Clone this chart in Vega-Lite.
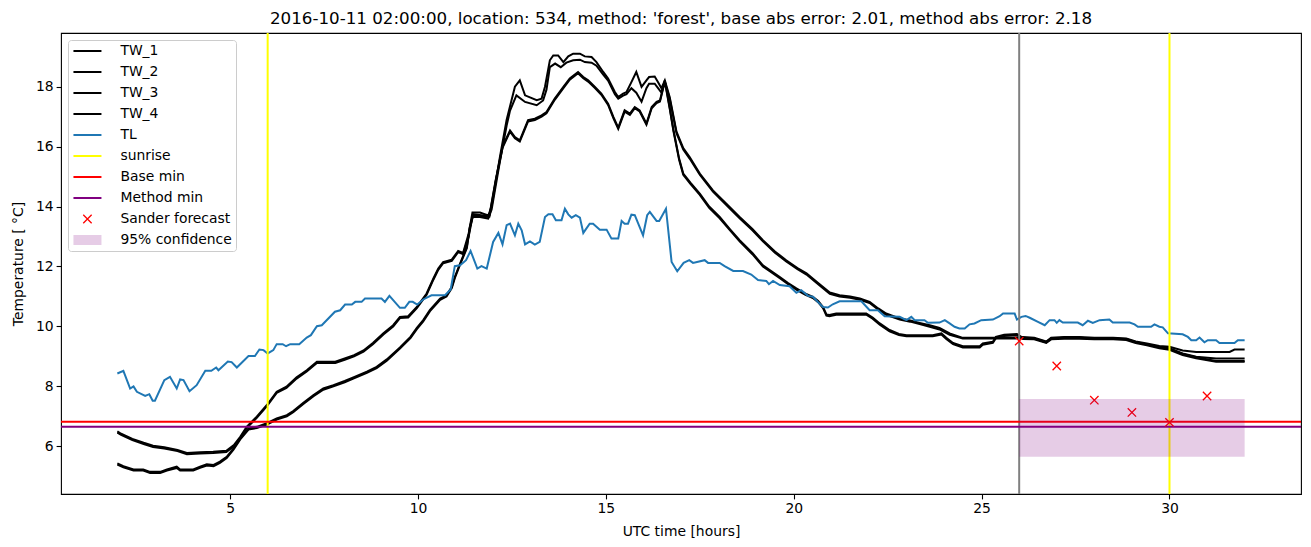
{
"$schema": "https://vega.github.io/schema/vega-lite/v6.json",
"width": 1240, "height": 461,
"autosize": {"type": "none"},
"padding": {"left": 61, "top": 33, "right": 10, "bottom": 53},
"title": {"text": "2016-10-11 02:00:00, location: 534, method: 'forest', base abs error: 2.01, method abs error: 2.18", "font": "DejaVu Sans", "fontSize": 16.7, "fontWeight": "normal", "color": "black", "anchor": "middle", "offset": 4},
"config": {
  "font": "DejaVu Sans",
  "view": {"stroke": "black", "strokeWidth": 1.1},
  "axis": {"grid": false, "domain": false, "tickColor": "black", "tickSize": 4.9, "tickWidth": 1.1, "labelColor": "black", "labelFont": "DejaVu Sans", "labelFontSize": 13.9, "titleFont": "DejaVu Sans", "titleFontSize": 13.9, "titleFontWeight": "normal", "titleColor": "black"},
  "axisX": {"labelPadding": 3, "titlePadding": 9},
  "axisY": {"labelPadding": 3, "titlePadding": 10}
},
"datasets": {
"tw1": [{"t":2.0,"v":6.5},{"t":2.1,"v":6.42},{"t":2.4,"v":6.25},{"t":2.7,"v":6.12},{"t":2.95,"v":6.02},{"t":3.25,"v":5.97},{"t":3.6,"v":5.88},{"t":3.85,"v":5.78},{"t":4.2,"v":5.8},{"t":4.55,"v":5.82},{"t":4.9,"v":5.85},{"t":5.1,"v":6.04},{"t":5.27,"v":6.32},{"t":5.44,"v":6.65},{"t":5.71,"v":6.99},{"t":5.98,"v":7.38},{"t":6.24,"v":7.82},{"t":6.5,"v":7.99},{"t":6.77,"v":8.3},{"t":7.04,"v":8.54},{"t":7.31,"v":8.82},{"t":7.8,"v":8.82},{"t":8.05,"v":8.93},{"t":8.3,"v":9.04},{"t":8.55,"v":9.2},{"t":8.8,"v":9.45},{"t":9.08,"v":9.77},{"t":9.34,"v":10.04},{"t":9.52,"v":10.32},{"t":9.74,"v":10.34},{"t":9.97,"v":10.65},{"t":10.23,"v":11.1},{"t":10.41,"v":11.6},{"t":10.54,"v":11.93},{"t":10.67,"v":12.15},{"t":10.9,"v":12.23},{"t":11.07,"v":12.52},{"t":11.2,"v":12.45},{"t":11.35,"v":13.1},{"t":11.45,"v":13.8},{"t":11.65,"v":13.8},{"t":11.87,"v":13.7},{"t":11.96,"v":14.0},{"t":12.18,"v":15.65},{"t":12.36,"v":16.9},{"t":12.45,"v":17.35},{"t":12.58,"v":18.0},{"t":12.71,"v":18.21},{"t":12.85,"v":17.71},{"t":13.16,"v":17.55},{"t":13.29,"v":17.6},{"t":13.38,"v":18.0},{"t":13.51,"v":18.88},{"t":13.6,"v":19.04},{"t":13.73,"v":19.04},{"t":13.87,"v":18.82},{"t":14.0,"v":19.01},{"t":14.13,"v":19.1},{"t":14.31,"v":19.1},{"t":14.44,"v":19.01},{"t":14.62,"v":18.99},{"t":14.75,"v":18.82},{"t":14.93,"v":18.49},{"t":15.06,"v":18.27},{"t":15.24,"v":17.82},{"t":15.33,"v":17.65},{"t":15.46,"v":17.77},{"t":15.55,"v":17.82},{"t":15.68,"v":18.15},{"t":15.81,"v":18.49},{"t":15.95,"v":17.99},{"t":16.08,"v":18.21},{"t":16.15,"v":18.32},{"t":16.3,"v":18.34},{"t":16.39,"v":18.15},{"t":16.48,"v":17.95},{"t":16.57,"v":18.21},{"t":16.7,"v":17.65},{"t":16.88,"v":16.5},{"t":17.06,"v":15.95},{"t":17.23,"v":15.65},{"t":17.5,"v":15.1},{"t":17.85,"v":14.54},{"t":18.2,"v":14.1},{"t":18.56,"v":13.65},{"t":18.9,"v":13.25},{"t":19.18,"v":12.88},{"t":19.5,"v":12.5},{"t":19.8,"v":12.21},{"t":20.1,"v":11.95},{"t":20.34,"v":11.77},{"t":20.65,"v":11.45},{"t":20.96,"v":11.13},{"t":21.22,"v":11.04},{"t":21.5,"v":11.0},{"t":21.76,"v":10.93},{"t":22.02,"v":10.82},{"t":22.25,"v":10.6},{"t":22.46,"v":10.43},{"t":22.82,"v":10.27},{"t":23.1,"v":10.2},{"t":23.35,"v":10.12},{"t":23.62,"v":10.04},{"t":23.88,"v":9.95},{"t":24.15,"v":9.77},{"t":24.5,"v":9.62},{"t":25.0,"v":9.62},{"t":25.5,"v":9.62},{"t":25.9,"v":9.62},{"t":26.1,"v":9.65},{"t":26.4,"v":9.62},{"t":26.72,"v":9.5},{"t":26.85,"v":9.62},{"t":27.2,"v":9.65},{"t":27.6,"v":9.65},{"t":28.0,"v":9.62},{"t":28.5,"v":9.62},{"t":28.85,"v":9.6},{"t":29.1,"v":9.5},{"t":29.4,"v":9.43},{"t":29.73,"v":9.35},{"t":30.0,"v":9.32},{"t":30.35,"v":9.2},{"t":30.71,"v":9.15},{"t":31.2,"v":9.15},{"t":31.6,"v":9.15},{"t":31.73,"v":9.23},{"t":32.0,"v":9.23}],
"tw2": [{"t":2.0,"v":6.46},{"t":2.1,"v":6.38},{"t":2.4,"v":6.21},{"t":2.7,"v":6.08},{"t":2.95,"v":5.98},{"t":3.25,"v":5.93},{"t":3.6,"v":5.84},{"t":3.85,"v":5.74},{"t":4.2,"v":5.76},{"t":4.55,"v":5.78},{"t":4.9,"v":5.81},{"t":5.1,"v":6.0},{"t":5.27,"v":6.28},{"t":5.44,"v":6.61},{"t":5.71,"v":6.95},{"t":5.98,"v":7.34},{"t":6.24,"v":7.78},{"t":6.5,"v":7.95},{"t":6.77,"v":8.26},{"t":7.04,"v":8.5},{"t":7.31,"v":8.78},{"t":7.8,"v":8.78},{"t":8.05,"v":8.89},{"t":8.3,"v":9.0},{"t":8.55,"v":9.16},{"t":8.8,"v":9.41},{"t":9.08,"v":9.73},{"t":9.34,"v":10.0},{"t":9.52,"v":10.28},{"t":9.74,"v":10.3},{"t":9.97,"v":10.61},{"t":10.23,"v":11.06},{"t":10.41,"v":11.56},{"t":10.54,"v":11.89},{"t":10.67,"v":12.11},{"t":10.9,"v":12.19},{"t":11.07,"v":12.48},{"t":11.2,"v":12.41},{"t":11.35,"v":13.0},{"t":11.45,"v":13.65},{"t":11.65,"v":13.65},{"t":11.87,"v":13.6},{"t":11.96,"v":13.9},{"t":12.18,"v":15.5},{"t":12.36,"v":16.7},{"t":12.45,"v":17.2},{"t":12.62,"v":17.71},{"t":12.85,"v":17.49},{"t":13.16,"v":17.38},{"t":13.33,"v":17.54},{"t":13.42,"v":17.9},{"t":13.51,"v":18.65},{"t":13.65,"v":18.77},{"t":13.8,"v":18.65},{"t":13.95,"v":18.8},{"t":14.13,"v":18.88},{"t":14.31,"v":18.9},{"t":14.44,"v":18.82},{"t":14.62,"v":18.8},{"t":14.75,"v":18.7},{"t":14.93,"v":18.4},{"t":15.06,"v":18.2},{"t":15.24,"v":17.75},{"t":15.33,"v":17.6},{"t":15.46,"v":17.7},{"t":15.55,"v":17.75},{"t":15.68,"v":17.95},{"t":15.81,"v":17.8},{"t":15.95,"v":17.5},{"t":16.08,"v":17.95},{"t":16.15,"v":18.1},{"t":16.3,"v":18.1},{"t":16.39,"v":17.95},{"t":16.48,"v":17.8},{"t":16.57,"v":18.15},{"t":16.7,"v":17.6},{"t":16.88,"v":16.45},{"t":17.06,"v":15.9},{"t":17.23,"v":15.6},{"t":17.5,"v":15.06},{"t":17.85,"v":14.5},{"t":18.2,"v":14.06},{"t":18.56,"v":13.61},{"t":18.9,"v":13.21},{"t":19.18,"v":12.84},{"t":19.5,"v":12.46},{"t":19.8,"v":12.17},{"t":20.1,"v":11.91},{"t":20.34,"v":11.73},{"t":20.65,"v":11.41},{"t":20.96,"v":11.09},{"t":21.22,"v":11.0},{"t":21.5,"v":10.96},{"t":21.76,"v":10.89},{"t":22.02,"v":10.78},{"t":22.25,"v":10.56},{"t":22.46,"v":10.39},{"t":22.82,"v":10.23},{"t":23.1,"v":10.16},{"t":23.35,"v":10.08},{"t":23.62,"v":9.99},{"t":23.88,"v":9.9},{"t":24.15,"v":9.72},{"t":24.5,"v":9.6},{"t":25.0,"v":9.6},{"t":25.5,"v":9.6},{"t":25.9,"v":9.6},{"t":26.1,"v":9.62},{"t":26.4,"v":9.6},{"t":26.72,"v":9.47},{"t":26.85,"v":9.6},{"t":27.2,"v":9.62},{"t":27.6,"v":9.62},{"t":28.0,"v":9.6},{"t":28.5,"v":9.6},{"t":28.85,"v":9.57},{"t":29.1,"v":9.47},{"t":29.4,"v":9.4},{"t":29.73,"v":9.32},{"t":30.0,"v":9.27},{"t":30.35,"v":9.1},{"t":30.71,"v":8.99},{"t":31.24,"v":8.93},{"t":32.0,"v":8.93}],
"tw3": [{"t":2.0,"v":5.43},{"t":2.16,"v":5.34},{"t":2.43,"v":5.23},{"t":2.69,"v":5.23},{"t":2.87,"v":5.15},{"t":3.14,"v":5.15},{"t":3.32,"v":5.23},{"t":3.58,"v":5.32},{"t":3.67,"v":5.23},{"t":4.02,"v":5.23},{"t":4.2,"v":5.32},{"t":4.38,"v":5.4},{"t":4.56,"v":5.38},{"t":4.73,"v":5.49},{"t":4.91,"v":5.65},{"t":5.09,"v":5.93},{"t":5.27,"v":6.27},{"t":5.49,"v":6.6},{"t":5.71,"v":6.65},{"t":5.98,"v":6.77},{"t":6.24,"v":6.93},{"t":6.51,"v":7.04},{"t":6.68,"v":7.18},{"t":6.95,"v":7.45},{"t":7.22,"v":7.71},{"t":7.48,"v":7.93},{"t":7.75,"v":8.04},{"t":8.05,"v":8.18},{"t":8.28,"v":8.3},{"t":8.64,"v":8.49},{"t":8.9,"v":8.65},{"t":9.17,"v":8.9},{"t":9.52,"v":9.3},{"t":9.8,"v":9.65},{"t":9.97,"v":9.95},{"t":10.14,"v":10.21},{"t":10.32,"v":10.55},{"t":10.59,"v":10.93},{"t":10.76,"v":11.04},{"t":10.9,"v":11.32},{"t":10.98,"v":11.65},{"t":11.12,"v":12.1},{"t":11.3,"v":12.65},{"t":11.38,"v":13.32},{"t":11.47,"v":13.75},{"t":11.73,"v":13.7},{"t":11.9,"v":13.7},{"t":12.07,"v":14.9},{"t":12.25,"v":16.0},{"t":12.45,"v":16.54},{"t":12.58,"v":16.32},{"t":12.71,"v":16.21},{"t":12.93,"v":16.88},{"t":13.11,"v":16.93},{"t":13.29,"v":17.04},{"t":13.42,"v":17.15},{"t":13.64,"v":17.6},{"t":13.87,"v":17.99},{"t":14.04,"v":18.27},{"t":14.26,"v":18.49},{"t":14.4,"v":18.32},{"t":14.53,"v":18.21},{"t":14.71,"v":17.99},{"t":14.88,"v":17.77},{"t":15.06,"v":17.43},{"t":15.2,"v":16.99},{"t":15.33,"v":16.63},{"t":15.5,"v":17.21},{"t":15.64,"v":17.1},{"t":15.77,"v":17.32},{"t":15.9,"v":17.21},{"t":16.08,"v":16.77},{"t":16.22,"v":17.32},{"t":16.35,"v":17.49},{"t":16.44,"v":17.54},{"t":16.57,"v":18.21},{"t":16.7,"v":17.3},{"t":16.8,"v":16.55},{"t":16.95,"v":15.6},{"t":17.06,"v":15.1},{"t":17.25,"v":14.8},{"t":17.5,"v":14.43},{"t":17.75,"v":14.0},{"t":18.03,"v":13.65},{"t":18.3,"v":13.25},{"t":18.56,"v":12.88},{"t":18.9,"v":12.45},{"t":19.18,"v":12.04},{"t":19.4,"v":11.85},{"t":19.63,"v":11.65},{"t":19.85,"v":11.45},{"t":20.07,"v":11.27},{"t":20.3,"v":11.1},{"t":20.51,"v":10.99},{"t":20.65,"v":10.85},{"t":20.78,"v":10.65},{"t":20.87,"v":10.4},{"t":20.95,"v":10.38},{"t":21.13,"v":10.43},{"t":21.93,"v":10.43},{"t":22.1,"v":10.3},{"t":22.29,"v":10.1},{"t":22.55,"v":9.88},{"t":22.8,"v":9.75},{"t":23.0,"v":9.71},{"t":23.7,"v":9.71},{"t":23.93,"v":9.77},{"t":24.06,"v":9.62},{"t":24.24,"v":9.45},{"t":24.5,"v":9.34},{"t":24.95,"v":9.34},{"t":25.03,"v":9.43},{"t":25.3,"v":9.49},{"t":25.38,"v":9.65},{"t":25.6,"v":9.72},{"t":25.94,"v":9.75},{"t":26.1,"v":9.62},{"t":26.4,"v":9.6},{"t":26.72,"v":9.48},{"t":26.85,"v":9.6},{"t":27.2,"v":9.62},{"t":27.6,"v":9.62},{"t":28.0,"v":9.6},{"t":28.5,"v":9.6},{"t":28.85,"v":9.58},{"t":29.1,"v":9.48},{"t":29.4,"v":9.4},{"t":29.73,"v":9.3},{"t":30.0,"v":9.25},{"t":30.35,"v":9.08},{"t":30.71,"v":8.97},{"t":31.24,"v":8.85},{"t":32.0,"v":8.85}],
"tw4": [{"t":2.0,"v":5.39},{"t":2.16,"v":5.3},{"t":2.43,"v":5.19},{"t":2.69,"v":5.19},{"t":2.87,"v":5.11},{"t":3.14,"v":5.11},{"t":3.32,"v":5.19},{"t":3.58,"v":5.28},{"t":3.67,"v":5.19},{"t":4.02,"v":5.19},{"t":4.2,"v":5.28},{"t":4.38,"v":5.36},{"t":4.56,"v":5.34},{"t":4.73,"v":5.45},{"t":4.91,"v":5.61},{"t":5.09,"v":5.89},{"t":5.27,"v":6.23},{"t":5.49,"v":6.56},{"t":5.71,"v":6.61},{"t":5.98,"v":6.73},{"t":6.24,"v":6.89},{"t":6.51,"v":7.0},{"t":6.68,"v":7.14},{"t":6.95,"v":7.41},{"t":7.22,"v":7.67},{"t":7.48,"v":7.89},{"t":7.75,"v":8.0},{"t":8.05,"v":8.14},{"t":8.28,"v":8.26},{"t":8.64,"v":8.45},{"t":8.9,"v":8.61},{"t":9.17,"v":8.86},{"t":9.52,"v":9.26},{"t":9.8,"v":9.61},{"t":9.97,"v":9.91},{"t":10.14,"v":10.17},{"t":10.32,"v":10.51},{"t":10.59,"v":10.89},{"t":10.76,"v":11.0},{"t":10.9,"v":11.28},{"t":10.98,"v":11.61},{"t":11.12,"v":12.06},{"t":11.3,"v":12.61},{"t":11.38,"v":13.28},{"t":11.47,"v":13.71},{"t":11.73,"v":13.66},{"t":11.9,"v":13.66},{"t":12.07,"v":14.86},{"t":12.25,"v":15.96},{"t":12.45,"v":16.5},{"t":12.58,"v":16.28},{"t":12.71,"v":16.17},{"t":12.93,"v":16.84},{"t":13.11,"v":16.89},{"t":13.29,"v":17.0},{"t":13.42,"v":17.11},{"t":13.64,"v":17.56},{"t":13.87,"v":17.95},{"t":14.04,"v":18.23},{"t":14.26,"v":18.45},{"t":14.4,"v":18.28},{"t":14.53,"v":18.17},{"t":14.71,"v":17.95},{"t":14.88,"v":17.73},{"t":15.06,"v":17.39},{"t":15.2,"v":16.95},{"t":15.33,"v":16.59},{"t":15.5,"v":17.17},{"t":15.64,"v":17.06},{"t":15.77,"v":17.28},{"t":15.9,"v":17.17},{"t":16.08,"v":16.73},{"t":16.22,"v":17.28},{"t":16.35,"v":17.45},{"t":16.44,"v":17.5},{"t":16.57,"v":18.17},{"t":16.7,"v":17.26},{"t":16.8,"v":16.51},{"t":16.95,"v":15.56},{"t":17.06,"v":15.06},{"t":17.25,"v":14.76},{"t":17.5,"v":14.39},{"t":17.75,"v":13.96},{"t":18.03,"v":13.61},{"t":18.3,"v":13.21},{"t":18.56,"v":12.84},{"t":18.9,"v":12.41},{"t":19.18,"v":12.0},{"t":19.4,"v":11.81},{"t":19.63,"v":11.61},{"t":19.85,"v":11.41},{"t":20.07,"v":11.23},{"t":20.3,"v":11.06},{"t":20.51,"v":10.95},{"t":20.65,"v":10.81},{"t":20.78,"v":10.61},{"t":20.87,"v":10.36},{"t":20.95,"v":10.34},{"t":21.13,"v":10.39},{"t":21.93,"v":10.39},{"t":22.1,"v":10.26},{"t":22.29,"v":10.06},{"t":22.55,"v":9.84},{"t":22.8,"v":9.71},{"t":23.0,"v":9.67},{"t":23.7,"v":9.67},{"t":23.93,"v":9.73},{"t":24.06,"v":9.58},{"t":24.24,"v":9.41},{"t":24.5,"v":9.3},{"t":24.95,"v":9.3},{"t":25.03,"v":9.39},{"t":25.3,"v":9.45},{"t":25.38,"v":9.61},{"t":25.6,"v":9.68},{"t":25.94,"v":9.71},{"t":26.1,"v":9.58},{"t":26.4,"v":9.57},{"t":26.72,"v":9.45},{"t":26.85,"v":9.57},{"t":27.2,"v":9.59},{"t":27.6,"v":9.59},{"t":28.0,"v":9.57},{"t":28.5,"v":9.57},{"t":28.85,"v":9.55},{"t":29.1,"v":9.45},{"t":29.4,"v":9.37},{"t":29.73,"v":9.27},{"t":30.0,"v":9.22},{"t":30.35,"v":9.05},{"t":30.71,"v":8.94},{"t":31.24,"v":8.82},{"t":32.0,"v":8.82}],
"tl": [{"t":2.0,"v":8.43},{"t":2.16,"v":8.52},{"t":2.34,"v":7.93},{"t":2.43,"v":8.0},{"t":2.52,"v":7.82},{"t":2.74,"v":7.68},{"t":2.85,"v":7.74},{"t":2.94,"v":7.52},{"t":3.0,"v":7.52},{"t":3.25,"v":8.21},{"t":3.4,"v":8.32},{"t":3.58,"v":7.93},{"t":3.67,"v":8.23},{"t":3.76,"v":8.21},{"t":3.92,"v":7.84},{"t":4.11,"v":8.04},{"t":4.34,"v":8.52},{"t":4.5,"v":8.52},{"t":4.63,"v":8.63},{"t":4.69,"v":8.54},{"t":4.94,"v":8.83},{"t":5.04,"v":8.81},{"t":5.18,"v":8.63},{"t":5.49,"v":9.01},{"t":5.66,"v":9.01},{"t":5.78,"v":9.23},{"t":5.89,"v":9.21},{"t":6.0,"v":9.1},{"t":6.15,"v":9.21},{"t":6.24,"v":9.41},{"t":6.4,"v":9.41},{"t":6.49,"v":9.34},{"t":6.6,"v":9.41},{"t":6.84,"v":9.41},{"t":7.04,"v":9.63},{"t":7.15,"v":9.71},{"t":7.31,"v":10.01},{"t":7.44,"v":10.04},{"t":7.79,"v":10.49},{"t":7.93,"v":10.54},{"t":8.06,"v":10.73},{"t":8.24,"v":10.73},{"t":8.33,"v":10.82},{"t":8.5,"v":10.82},{"t":8.59,"v":10.93},{"t":9.03,"v":10.93},{"t":9.12,"v":10.82},{"t":9.24,"v":11.02},{"t":9.34,"v":10.88},{"t":9.52,"v":10.62},{"t":9.65,"v":10.62},{"t":9.77,"v":10.82},{"t":9.86,"v":10.82},{"t":9.98,"v":10.73},{"t":10.14,"v":10.9},{"t":10.36,"v":11.04},{"t":10.72,"v":11.04},{"t":10.87,"v":11.23},{"t":10.98,"v":12.01},{"t":11.12,"v":12.04},{"t":11.28,"v":12.21},{"t":11.4,"v":12.52},{"t":11.58,"v":11.93},{"t":11.69,"v":12.01},{"t":11.83,"v":11.93},{"t":12.0,"v":12.82},{"t":12.14,"v":13.12},{"t":12.25,"v":12.74},{"t":12.36,"v":13.38},{"t":12.45,"v":13.43},{"t":12.58,"v":13.04},{"t":12.67,"v":13.43},{"t":12.76,"v":13.21},{"t":12.85,"v":12.74},{"t":12.98,"v":12.84},{"t":13.11,"v":12.73},{"t":13.24,"v":12.82},{"t":13.38,"v":13.65},{"t":13.47,"v":13.74},{"t":13.58,"v":13.74},{"t":13.67,"v":13.54},{"t":13.82,"v":13.54},{"t":13.91,"v":13.93},{"t":14.0,"v":13.74},{"t":14.09,"v":13.63},{"t":14.2,"v":13.71},{"t":14.31,"v":13.63},{"t":14.4,"v":13.12},{"t":14.57,"v":13.43},{"t":14.66,"v":13.43},{"t":14.84,"v":13.23},{"t":15.02,"v":13.23},{"t":15.15,"v":12.93},{"t":15.33,"v":12.93},{"t":15.42,"v":13.52},{"t":15.5,"v":13.43},{"t":15.59,"v":13.43},{"t":15.68,"v":13.73},{"t":15.77,"v":13.71},{"t":15.99,"v":13.04},{"t":16.1,"v":13.71},{"t":16.17,"v":13.82},{"t":16.35,"v":13.52},{"t":16.42,"v":13.52},{"t":16.6,"v":13.93},{"t":16.75,"v":12.15},{"t":16.9,"v":11.84},{"t":17.07,"v":12.12},{"t":17.22,"v":12.21},{"t":17.32,"v":12.12},{"t":17.63,"v":12.21},{"t":17.72,"v":12.12},{"t":18.03,"v":12.12},{"t":18.16,"v":12.01},{"t":18.39,"v":11.85},{"t":18.65,"v":11.85},{"t":18.87,"v":11.73},{"t":19.05,"v":11.55},{"t":19.27,"v":11.52},{"t":19.34,"v":11.41},{"t":19.45,"v":11.52},{"t":19.63,"v":11.38},{"t":19.89,"v":11.34},{"t":20.07,"v":11.12},{"t":20.2,"v":11.21},{"t":20.38,"v":11.02},{"t":20.51,"v":10.99},{"t":20.64,"v":10.82},{"t":20.78,"v":10.65},{"t":20.91,"v":10.63},{"t":21.04,"v":10.74},{"t":21.22,"v":10.84},{"t":21.8,"v":10.84},{"t":22.02,"v":10.54},{"t":22.24,"v":10.54},{"t":22.42,"v":10.34},{"t":22.82,"v":10.32},{"t":23.0,"v":10.21},{"t":23.13,"v":10.32},{"t":23.22,"v":10.21},{"t":23.48,"v":10.21},{"t":23.57,"v":10.12},{"t":23.88,"v":10.13},{"t":24.02,"v":10.21},{"t":24.15,"v":10.1},{"t":24.28,"v":9.99},{"t":24.41,"v":9.93},{"t":24.55,"v":9.93},{"t":24.68,"v":10.07},{"t":24.81,"v":10.1},{"t":24.99,"v":10.21},{"t":25.3,"v":10.23},{"t":25.48,"v":10.34},{"t":25.57,"v":10.43},{"t":25.88,"v":10.43},{"t":25.94,"v":10.23},{"t":26.06,"v":10.32},{"t":26.17,"v":10.35},{"t":26.28,"v":10.29},{"t":26.5,"v":10.15},{"t":26.68,"v":10.04},{"t":26.81,"v":10.21},{"t":26.94,"v":10.21},{"t":27.0,"v":10.12},{"t":27.07,"v":10.21},{"t":27.16,"v":10.13},{"t":27.56,"v":10.13},{"t":27.69,"v":10.04},{"t":27.83,"v":10.19},{"t":27.96,"v":10.12},{"t":28.14,"v":10.21},{"t":28.4,"v":10.23},{"t":28.49,"v":10.13},{"t":28.94,"v":10.13},{"t":29.07,"v":10.07},{"t":29.16,"v":9.99},{"t":29.51,"v":9.99},{"t":29.6,"v":10.07},{"t":29.73,"v":9.99},{"t":29.82,"v":9.97},{"t":29.96,"v":9.77},{"t":30.35,"v":9.74},{"t":30.49,"v":9.65},{"t":30.58,"v":9.54},{"t":30.71,"v":9.54},{"t":30.8,"v":9.63},{"t":30.93,"v":9.47},{"t":31.02,"v":9.54},{"t":31.24,"v":9.54},{"t":31.33,"v":9.45},{"t":31.73,"v":9.45},{"t":31.82,"v":9.54},{"t":32.0,"v":9.54}],
"sunrise": [{"t":6.0},{"t":30.0}],
"now": [{"t":26.0}],
"basemin": [{"v":6.82}],
"methodmin": [{"v":6.65}],
"forecast": [{"t":26,"v":9.51},{"t":27,"v":8.68},{"t":28,"v":7.54},{"t":29,"v":7.13},{"t":30,"v":6.8},{"t":31,"v":7.68}],
"conf": [{"t":26,"t1":32,"v":5.65,"v2":7.58}]
},
"layer": [
{"data": {"name": "tw1"}, "mark": {"type": "line", "strokeWidth": 2},
 "encoding": {
  "x": {"field": "t", "type": "quantitative", "title": "UTC time [hours]", "scale": {"domain": [0.5, 33.5], "nice": false, "zero": false}, "axis": {"values": [5,10,15,20,25,30]}},
  "y": {"field": "v", "type": "quantitative", "title": "Temperature [ °C]", "scale": {"domain": [4.41, 19.79], "nice": false, "zero": false}, "axis": {"values": [6,8,10,12,14,16,18]}},
  "color": {"datum": "TW_1", "type": "nominal",
   "scale": {"domain": ["TW_1","TW_2","TW_3","TW_4","TL","sunrise","Base min","Method min","Sander forecast","95% confidence"], "range": ["#000000","#000000","#000000","#000000","#1f77b4","#ffff00","#ff0000","#800080","#ff0000","#800080"]},
   "legend": {"title": null, "orient": "top-left", "offset": 7, "padding": 4, "fillColor": "rgba(255,255,255,0.8)", "strokeColor": "#cccccc", "cornerRadius": 3, "symbolType": "stroke", "symbolSize": 784, "symbolStrokeWidth": 2, "symbolOffset": 8.5, "labelFont": "DejaVu Sans", "labelFontSize": 13.9, "labelColor": "black", "labelOffset": 26, "rowPadding": 7, "clipHeight": 14,
    "encode": {"symbols": {"update": {
      "shape": {"signal": "datum.value === 'Sander forecast' ? 'M-0.3,-0.3L0.3,0.3M0.3,-0.3L-0.3,0.3' : datum.value === '95% confidence' ? 'M-1,-0.35H1V0.35H-1Z' : 'stroke'"},
      "size": {"value": 784},
      "fill": {"value": "#800080"},
      "fillOpacity": {"signal": "datum.value === '95% confidence' ? 0.2 : 0"},
      "strokeOpacity": {"signal": "datum.value === '95% confidence' ? 0 : 1"},
      "strokeWidth": {"signal": "datum.value === 'Sander forecast' ? 1.3 : 2"},
      "opacity": {"value": 1}
    }}}}}
 }},
{"data": {"name": "tw2"}, "mark": {"type": "line", "strokeWidth": 2},
 "encoding": {"x": {"field": "t", "type": "quantitative"}, "y": {"field": "v", "type": "quantitative"}, "color": {"datum": "TW_2", "type": "nominal", "legend": null}}},
{"data": {"name": "tw3"}, "mark": {"type": "line", "strokeWidth": 2},
 "encoding": {"x": {"field": "t", "type": "quantitative"}, "y": {"field": "v", "type": "quantitative"}, "color": {"datum": "TW_3", "type": "nominal", "legend": null}}},
{"data": {"name": "tw4"}, "mark": {"type": "line", "strokeWidth": 2},
 "encoding": {"x": {"field": "t", "type": "quantitative"}, "y": {"field": "v", "type": "quantitative"}, "color": {"datum": "TW_4", "type": "nominal", "legend": null}}},
{"data": {"name": "tl"}, "mark": {"type": "line", "strokeWidth": 2},
 "encoding": {"x": {"field": "t", "type": "quantitative"}, "y": {"field": "v", "type": "quantitative"}, "color": {"datum": "TL", "type": "nominal", "legend": null}}},
{"data": {"name": "sunrise"}, "mark": {"type": "rule", "strokeWidth": 2},
 "encoding": {"x": {"field": "t", "type": "quantitative"}, "color": {"datum": "sunrise", "type": "nominal", "legend": null}}},
{"data": {"name": "now"}, "mark": {"type": "rule", "strokeWidth": 2, "color": "#808080"},
 "encoding": {"x": {"field": "t", "type": "quantitative"}}},
{"data": {"name": "basemin"}, "mark": {"type": "rule", "strokeWidth": 2},
 "encoding": {"y": {"field": "v", "type": "quantitative"}, "color": {"datum": "Base min", "type": "nominal", "legend": null}}},
{"data": {"name": "methodmin"}, "mark": {"type": "rule", "strokeWidth": 2},
 "encoding": {"y": {"field": "v", "type": "quantitative"}, "color": {"datum": "Method min", "type": "nominal", "legend": null}}},
{"data": {"name": "forecast"}, "mark": {"type": "point", "shape": "M-1,-1L1,1M1,-1L-1,1", "filled": false, "size": 70, "strokeWidth": 1.3, "opacity": 1},
 "encoding": {"x": {"field": "t", "type": "quantitative"}, "y": {"field": "v", "type": "quantitative"}, "color": {"datum": "Sander forecast", "type": "nominal", "legend": null}}},
{"data": {"name": "conf"}, "mark": {"type": "rect", "opacity": 0.2},
 "encoding": {"x": {"field": "t", "type": "quantitative"}, "x2": {"field": "t1"}, "y": {"field": "v", "type": "quantitative"}, "y2": {"field": "v2"}, "color": {"datum": "95% confidence", "type": "nominal", "legend": null}}}
]
}
